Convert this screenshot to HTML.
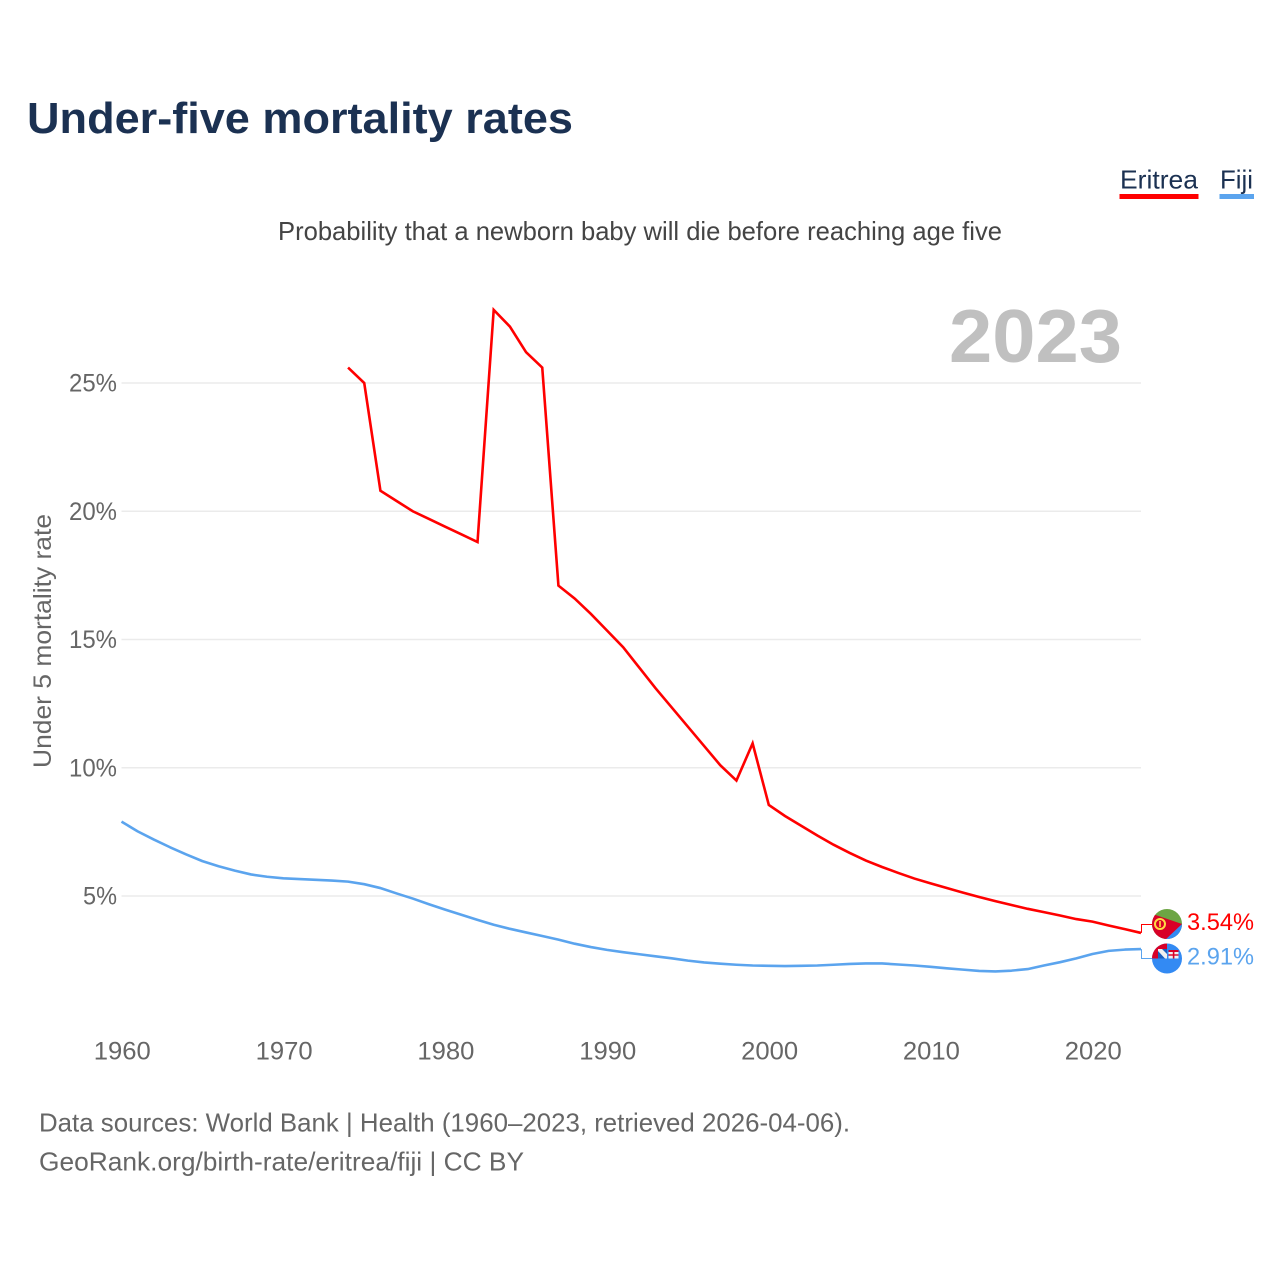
<!DOCTYPE html>
<html lang="en">
<head>
<meta charset="utf-8">
<title>Under-five mortality rates</title>
<style>
html,body{margin:0;padding:0;background:#fff;width:1280px;height:1280px;overflow:hidden}
svg{display:block}
text{font-family:"Liberation Sans",sans-serif}
</style>
</head>
<body>
<svg id="chart" width="1280" height="1280" viewBox="0 0 1280 1280" xmlns="http://www.w3.org/2000/svg">
  <defs>
    <clipPath id="clip-er"><circle cx="1167" cy="924" r="15"/></clipPath>
    <clipPath id="clip-fj"><circle cx="1167" cy="958.5" r="15"/></clipPath>
  </defs>
  <text x="27" y="133" font-size="44" font-weight="700" fill="#1b3152" textLength="546" lengthAdjust="spacingAndGlyphs">Under-five mortality rates</text>
  <text x="278" y="240" font-size="26" fill="#444444" textLength="724" lengthAdjust="spacingAndGlyphs">Probability that a newborn baby will die before reaching age five</text>

  <g>
    <text x="1120" y="188.5" font-size="26" fill="#1b3152" textLength="78" lengthAdjust="spacingAndGlyphs">Eritrea</text>
    <rect x="1119.5" y="194" width="79" height="5" fill="#ff0000"/>
    <text x="1220" y="188.5" font-size="26" fill="#1b3152" textLength="33" lengthAdjust="spacingAndGlyphs">Fiji</text>
    <rect x="1219.5" y="194" width="34.5" height="5" fill="#5ba4ee"/>
  </g>

  <g id="grid"></g>
  <text x="949" y="362" font-size="75" font-weight="700" fill="#c0c0c0" textLength="173" lengthAdjust="spacingAndGlyphs">2023</text>
  <g id="ylabels"></g>
  <g id="xlabels"></g>
  <text transform="translate(51,641) rotate(-90)" text-anchor="middle" font-size="25" fill="#666666" textLength="254" lengthAdjust="spacingAndGlyphs">Under 5 mortality rate</text>
  <g id="series"></g>

  <g clip-path="url(#clip-er)">
    <rect x="1150" y="907" width="34" height="34" fill="#6da544"/>
    <polygon points="1182,924 1162,941 1184,941 1184,924" fill="#338af3"/>
    <polygon points="1150,913 1182,924 1164,941 1150,941" fill="#d80027"/>
    <circle cx="1160" cy="924" r="5" fill="none" stroke="#ffda44" stroke-width="2"/>
    <rect x="1159.2" y="921" width="1.6" height="6" fill="#ffda44"/>
  </g>
  <g clip-path="url(#clip-fj)">
    <rect x="1150" y="942" width="34" height="34" fill="#338af3"/>
    <rect x="1150" y="942" width="17" height="16.5" fill="#d80027"/>
    <rect x="1158" y="949" width="9" height="9.5" fill="#f0f0f0"/>
    <polygon points="1158,958.5 1158,951 1165,958.5" fill="#1a5fc0"/>
    <polygon points="1162,949 1167,949 1167,954" fill="#1a5fc0"/>
    <rect x="1168.5" y="950" width="10" height="8.5" fill="#f0f0f0"/>
    <rect x="1168.5" y="950" width="10" height="2" fill="#d80027"/>
    <rect x="1172.8" y="952" width="1.6" height="6.5" fill="#d80027"/>
    <rect x="1168.5" y="954.3" width="10" height="1.4" fill="#d80027"/>
  </g>
  <text id="label-er" x="1187" y="930" font-size="24" fill="#ff0000" textLength="67" lengthAdjust="spacingAndGlyphs">3.54%</text>
  <text id="label-fj" x="1187" y="964.5" font-size="24" fill="#5ba4ee" textLength="67" lengthAdjust="spacingAndGlyphs">2.91%</text>

  <text x="39" y="1131.5" font-size="26" fill="#666666" textLength="811" lengthAdjust="spacingAndGlyphs">Data sources: World Bank | Health (1960–2023, retrieved 2026-04-06).</text>
  <text x="39" y="1170.5" font-size="26" fill="#666666" textLength="485" lengthAdjust="spacingAndGlyphs">GeoRank.org/birth-rate/eritrea/fiji | CC BY</text>
</svg>
<script>
const yTicks = [5, 10, 15, 20, 25];
const xTicks = [1960, 1970, 1980, 1990, 2000, 2010, 2020];
const eritreaStartYear = 1974;
const eritreaValues = [25.6, 25.0, 20.8, 20.4, 20.0, 19.7, 19.4, 19.1, 18.8, 27.85, 27.2, 26.2, 25.6, 17.1, 16.6, 16.0, 15.35, 14.7, 13.9, 13.1, 12.35, 11.6, 10.85, 10.1, 9.5, 10.95, 8.55, 8.12, 7.74, 7.36, 7.0, 6.68, 6.38, 6.13, 5.9, 5.68, 5.49, 5.31, 5.13, 4.96, 4.8, 4.65, 4.5, 4.37, 4.24, 4.1, 4.0, 3.85, 3.71, 3.56];
const fijiStartYear = 1960;
const fijiValues = [7.9, 7.52, 7.2, 6.9, 6.62, 6.36, 6.16, 5.99, 5.84, 5.75, 5.69, 5.66, 5.63, 5.6, 5.56, 5.46, 5.31, 5.1, 4.9, 4.68, 4.47, 4.27, 4.07, 3.88, 3.72, 3.58, 3.44, 3.3, 3.14, 3.01, 2.9, 2.81, 2.73, 2.65, 2.57, 2.48, 2.41, 2.36, 2.32, 2.29, 2.28, 2.27, 2.28, 2.29, 2.32, 2.35, 2.37, 2.37, 2.33, 2.29, 2.24, 2.18, 2.13, 2.08, 2.06, 2.09, 2.15, 2.29, 2.42, 2.57, 2.74, 2.86, 2.91, 2.93];

const NS = 'http://www.w3.org/2000/svg';
const xOf = function (year) { return 121.5 + (year - 1960) * (1141 - 121.5) / 63; };
const yOf = function (v) { return 1024.25 - v * 25.65; };

const grid = document.getElementById('grid');
const ylabels = document.getElementById('ylabels');
const xlabels = document.getElementById('xlabels');
const series = document.getElementById('series');

yTicks.forEach(function (t) {
  const line = document.createElementNS(NS, 'line');
  
  
  line.setAttribute('x1', xOf(1960));
  line.setAttribute('x2', xOf(2023));
  line.setAttribute('y1', yOf(t));
  line.setAttribute('y2', yOf(t));
  line.setAttribute('stroke', '#ebebeb');
  line.setAttribute('stroke-width', '1.4');
  grid.appendChild(line);

  const label = document.createElementNS(NS, 'text');
  
  
  label.setAttribute('x', 117);
  label.setAttribute('y', yOf(t) + 8.5);
  label.setAttribute('text-anchor', 'end');
  label.setAttribute('font-size', '25');
  label.setAttribute('fill', '#666666');
  label.setAttribute('textLength', t < 10 ? 34 : 48);
  label.setAttribute('lengthAdjust', 'spacingAndGlyphs');
  label.textContent = t + '%';
  ylabels.appendChild(label);
});

xTicks.forEach(function (t) {
  const label = document.createElementNS(NS, 'text');
  
  
  label.setAttribute('x', xOf(t) + 0.8);
  label.setAttribute('y', 1059.5);
  label.setAttribute('text-anchor', 'middle');
  label.setAttribute('font-size', '25');
  label.setAttribute('fill', '#666666');
  label.setAttribute('textLength', 57);
  label.setAttribute('lengthAdjust', 'spacingAndGlyphs');
  label.textContent = t;
  xlabels.appendChild(label);
});

function buildPoints(startYear, values) {
  return values.map(function (v, i) {
    return xOf(startYear + i).toFixed(2) + ',' + yOf(v).toFixed(2);
  }).join(' ');
}

const fijiLine = document.createElementNS(NS, 'polyline');


fijiLine.setAttribute('points', buildPoints(fijiStartYear, fijiValues));
fijiLine.setAttribute('fill', 'none');
fijiLine.setAttribute('stroke', '#5ba4ee');
fijiLine.setAttribute('stroke-width', '2.6');
fijiLine.setAttribute('stroke-linejoin', 'round');
series.appendChild(fijiLine);

const eritreaLine = document.createElementNS(NS, 'polyline');


eritreaLine.setAttribute('points', buildPoints(eritreaStartYear, eritreaValues));
eritreaLine.setAttribute('fill', 'none');
eritreaLine.setAttribute('stroke', '#ff0000');
eritreaLine.setAttribute('stroke-width', '2.6');
eritreaLine.setAttribute('stroke-linejoin', 'miter');
series.appendChild(eritreaLine);

const erEnd = yOf(eritreaValues[eritreaValues.length - 1]);
const fjEnd = yOf(fijiValues[fijiValues.length - 1]);

const erConnector = document.createElementNS(NS, 'polyline');


erConnector.setAttribute('points', '1141.5,' + erEnd + ' 1141.5,924.5 1152,924.5');
erConnector.setAttribute('fill', 'none');
erConnector.setAttribute('stroke', '#ff0000');
erConnector.setAttribute('stroke-width', '1');
series.appendChild(erConnector);

const fjConnector = document.createElementNS(NS, 'polyline');


fjConnector.setAttribute('points', '1141.5,' + fjEnd + ' 1141.5,958.5 1152,958.5');
fjConnector.setAttribute('fill', 'none');
fjConnector.setAttribute('stroke', '#5ba4ee');
fjConnector.setAttribute('stroke-width', '1');
series.appendChild(fjConnector);
</script>
</body>
</html>
